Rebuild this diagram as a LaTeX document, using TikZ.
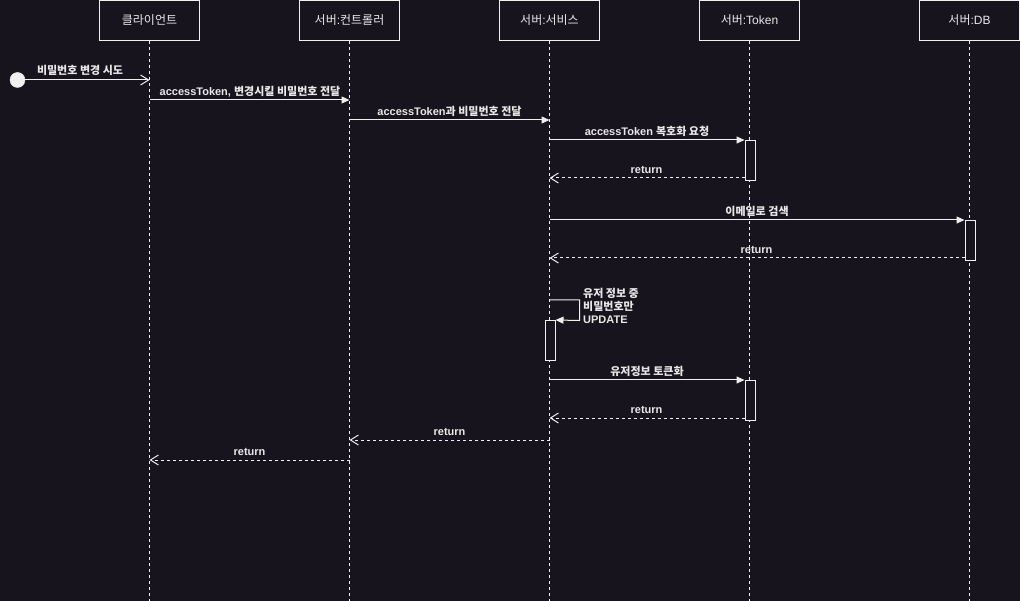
\documentclass[tikz,border=0pt]{standalone}
\usepackage{fontspec}
\setmainfont{Liberation Sans}
\newfontfamily\kr{Noto Sans CJK KR}
\usetikzlibrary{arrows.meta}
\definecolor{bg}{HTML}{18141D}
\definecolor{fg}{HTML}{F0F0F0}
\definecolor{tx}{HTML}{E8E8E8}
\begin{document}
\begin{tikzpicture}[x=1pt,y=-1pt,
  actor/.style={draw=fg, line width=1pt, minimum width=100pt, minimum height=40pt, inner sep=0pt, text=tx, font=\fontsize{12}{14}\selectfont},
  life/.style={draw=fg, line width=0.8pt, dash pattern=on 3pt off 3pt},
  actbox/.style={draw=fg, fill=bg, line width=1pt, minimum width=10pt, minimum height=40pt, inner sep=0pt, anchor=north west},
  msg/.style={draw=fg, line width=1pt, -{Triangle[length=8pt,width=7pt]}},
  openmsg/.style={draw=fg, line width=1pt, -{Straight Barb[length=8pt,width=10pt,line width=1pt]}},
  ret/.style={draw=fg, line width=1pt, dash pattern=on 3pt off 3pt, -{Straight Barb[length=8pt,width=10pt,line width=1pt]}},
  lbl/.style={text=tx, font=\bfseries\fontsize{11}{13}\selectfont, inner sep=0pt},
  startdot/.style={circle, fill=fg, draw=fg, minimum size=15pt, inner sep=0pt}
]
\fill[bg] (0,0) rectangle (1020,601);
\useasboundingbox (0,0) rectangle (1020,601);

% actors
\node[actor] (client) at (149.5,20.5) {\kr 클라이언트};
\node[actor] (ctrl) at (349.5,20.5) {{\kr 서버}:{\kr 컨트롤러}};
\node[actor] (svc) at (549.5,20.5) {{\kr 서버}:{\kr 서비스}};
\node[actor] (tok) at (749.5,20.5) {{\kr 서버}:Token};
\node[actor] (db) at (969.5,20.5) {{\kr 서버}:DB};

% lifeline ends
\coordinate (clientEnd) at (149.5,601);
\coordinate (ctrlEnd) at (349.5,601);
\coordinate (svcEnd) at (549.5,601);
\coordinate (tokEnd) at (749.5,601);
\coordinate (dbEnd) at (969.5,601);
\draw[life] (client.south) -- (clientEnd);
\draw[life] (ctrl.south) -- (ctrlEnd);
\draw[life] (svc.south) -- (svcEnd);
\draw[life] (tok.south) -- (tokEnd);
\draw[life] (db.south) -- (dbEnd);

% activation boxes
\node[actbox] (tokA1) at (744.5,140) {};
\node[actbox] (dbA) at (964.5,220) {};
\node[actbox] (svcA) at (544.5,320) {};
\node[actbox] (tokA2) at (744.5,380) {};

% message endpoints
\coordinate (c80) at (149.5,80);
\coordinate (c100) at (149.5,100);
\coordinate (k100) at (349.5,100);
\coordinate (k120) at (349.5,120);
\coordinate (s120) at (549.5,120);
\coordinate (s140) at (549.5,140);
\coordinate (s178) at (549.5,178);
\coordinate (t178) at (744.5,178);
\coordinate (s220) at (549.5,220);
\coordinate (s258) at (549.5,258);
\coordinate (d258) at (964.5,258);
\coordinate (s300) at (549.5,300);
\coordinate (loopA) at (579.5,300);
\coordinate (loopB) at (579.5,320.5);
\coordinate (s380) at (549.5,380);
\coordinate (s418) at (549.5,418);
\coordinate (t418) at (744.5,418);
\coordinate (s440) at (549.5,440);
\coordinate (k440) at (349.5,440);
\coordinate (k460) at (349.5,460);
\coordinate (c460) at (149.5,460);

% start
\node[startdot] (start) at (17.5,80) {};

% messages
\draw[openmsg] (start.east) -- (c80);
\node[lbl] (l1) at (80,70) {\kr 비밀번호 변경 시도};

\draw[msg] (c100) -- (k100);
\node[lbl] (l2) at (250,91.5) {accessToken, {\kr 변경시킬 비밀번호 전달}};

\draw[msg] (k120) -- (s120);
\node[lbl] (l3) at (449.5,111.5) {accessToken{\kr 과 비밀번호 전달}};

\draw[msg] (s140) -- (tokA1.north west);
\node[lbl] (l4) at (647,131.5) {accessToken {\kr 복호화 요청}};

\draw[ret] (t178) -- (s178);
\node[lbl] (l5) at (646.5,169.5) {return};

\draw[msg] (s220) -- (dbA.north west);
\node[lbl] (l6) at (757,211) {\kr 이메일로 검색};

\draw[ret] (d258) -- (s258);
\node[lbl] (l7) at (756.5,249.5) {return};

\draw[msg] (s300) -- (loopA) -- (loopB) -- (svcA.north east);
\node[lbl, anchor=north west, align=left] (l8) at (583,288) {{\kr 유저 정보 중}\\{\kr 비밀번호만}\\UPDATE};

\draw[msg] (s380) -- (tokA2.north west);
\node[lbl] (l9) at (647,371) {\kr 유저정보 토큰화};

\draw[ret] (t418) -- (s418);
\node[lbl] (l10) at (646.5,409.5) {return};

\draw[ret] (s440) -- (k440);
\node[lbl] (l11) at (449.5,431.5) {return};

\draw[ret] (k460) -- (c460);
\node[lbl] (l12) at (249.5,451.5) {return};
\end{tikzpicture}
\end{document}
